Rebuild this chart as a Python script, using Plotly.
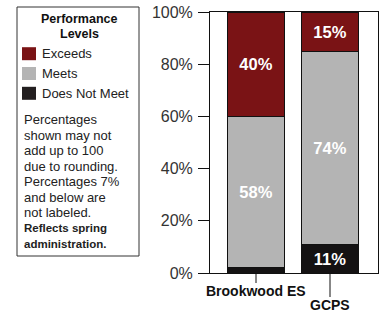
import plotly.graph_objects as go

# ---- data ----
categories = ["Brookwood ES", "GCPS"]
levels = ["Does Not Meet", "Meets", "Exceeds"]
does_not_meet = [2, 11]
meets = [58, 74]
exceeds = [40, 15]
y_tick_vals = [0, 20, 40, 60, 80, 100]
y_tick_text = ["0%", "20%", "40%", "60%", "80%", "100%"]
legend_title = ["Performance", "Levels"]
notes_regular = ["Percentages", "shown may not", "add up to 100", "due to rounding.",
                 "Percentages 7%", "and below are", "not labeled."]
notes_bold = ["Reflects spring", "administration."]

series = [does_not_meet, meets, exceeds]
colors = {"Does Not Meet": "#141213", "Meets": "#B4B4B4", "Exceeds": "#7A1315"}
FONT = "Liberation Sans, Arial, sans-serif"

W, H = 383, 312
ML, MR, MT, MB = 210, 5, 12, 39
PW, PH = W - ML - MR, H - MT - MB


def px(x):
    return (x - ML) / PW


def py(y):
    return (H - MB - y) / PH


fig = go.Figure()
xs = list(range(len(categories)))
for name, vals in zip(levels, series):
    fig.add_trace(go.Bar(
        x=xs, y=vals, name=name, width=0.76,
        marker=dict(color=colors[name], line=dict(color="#111", width=1)),
        text=[f"{v}%" if v > 7 else "" for v in vals],
        textposition="inside", insidetextanchor="middle",
        textfont=dict(family=FONT, size=16.5, color="white", weight="bold"),
        hoverinfo="skip", showlegend=False,
    ))

shapes = []
annotations = []

# category ticks and labels (staggered)
label_offsets = [17.5, 31.5]
tick_lengths = [10, 24]
for i, cat in enumerate(categories):
    shapes.append(dict(type="line", xref="x", yref="paper", x0=i, x1=i,
                       y0=0, y1=-tick_lengths[i] / PH, line=dict(color="#111", width=1)))
    annotations.append(dict(xref="x", yref="paper", x=i, y=-label_offsets[i] / PH,
                            text=f"<b>{cat}</b>", showarrow=False, xanchor="center",
                            yanchor="middle",
                            font=dict(family=FONT, size=14, color="#111")))

# legend box
shapes.append(dict(type="rect", xref="paper", yref="paper", x0=px(17), x1=px(139),
                   y0=py(7), y1=py(256), line=dict(color="#333", width=1), fillcolor="white",
                   layer="below"))
for j, t in enumerate(legend_title):
    annotations.append(dict(xref="paper", yref="paper", x=px(79), y=py(19 + 15 * j),
                            text=f"<b>{t}</b>", showarrow=False, xanchor="center",
                            yanchor="middle", font=dict(family=FONT, size=12.5, color="#111")))
for j, name in enumerate(reversed(levels)):
    cy = 53.7 + 19.8 * j
    shapes.append(dict(type="rect", xref="paper", yref="paper", x0=px(22), x1=px(36),
                       y0=py(cy - 6.5), y1=py(cy + 6.5), line=dict(width=0),
                       fillcolor=colors[name] if name != "Does Not Meet" else "#231F20"))
    annotations.append(dict(xref="paper", yref="paper", x=px(39.5), y=py(cy),
                            text=name, showarrow=False, xanchor="left", yanchor="middle",
                            font=dict(family=FONT, size=13, color="#222")))
note_lines = [(t, False) for t in notes_regular] + [(t, True) for t in notes_bold]
for k, (t, bold) in enumerate(note_lines):
    annotations.append(dict(xref="paper", yref="paper", x=px(22), y=py(119.5 + 15.5 * k),
                            text=f"<b>{t}</b>" if bold else t, showarrow=False,
                            xanchor="left", yanchor="middle",
                            font=dict(family=FONT, size=11.5 if bold else 13, color="#222")))

fig.update_layout(
    width=W, height=H, margin=dict(l=ML, r=MR, t=MT, b=MB),
    barmode="stack", paper_bgcolor="white", plot_bgcolor="white",
    showlegend=False, shapes=shapes, annotations=annotations,
    xaxis=dict(range=[-0.6216, 1.6486], showticklabels=False, ticks="",
               showgrid=False, zeroline=False, showline=True, mirror=True,
               linecolor="#111", linewidth=1, fixedrange=True),
    yaxis=dict(range=[0, 100], tickvals=y_tick_vals, ticktext=y_tick_text,
               ticks="outside", ticklen=11, tickcolor="#111", tickwidth=1,
               showgrid=False, zeroline=False, showline=True, mirror=True,
               linecolor="#111", linewidth=1, ticklabelstandoff=2,
               tickfont=dict(family=FONT, size=16, color="#333"), fixedrange=True),
)

fig.write_html("out.html", config={"displayModeBar": False},
               post_script="document.body.style.margin='0';document.body.style.overflow='hidden';")
